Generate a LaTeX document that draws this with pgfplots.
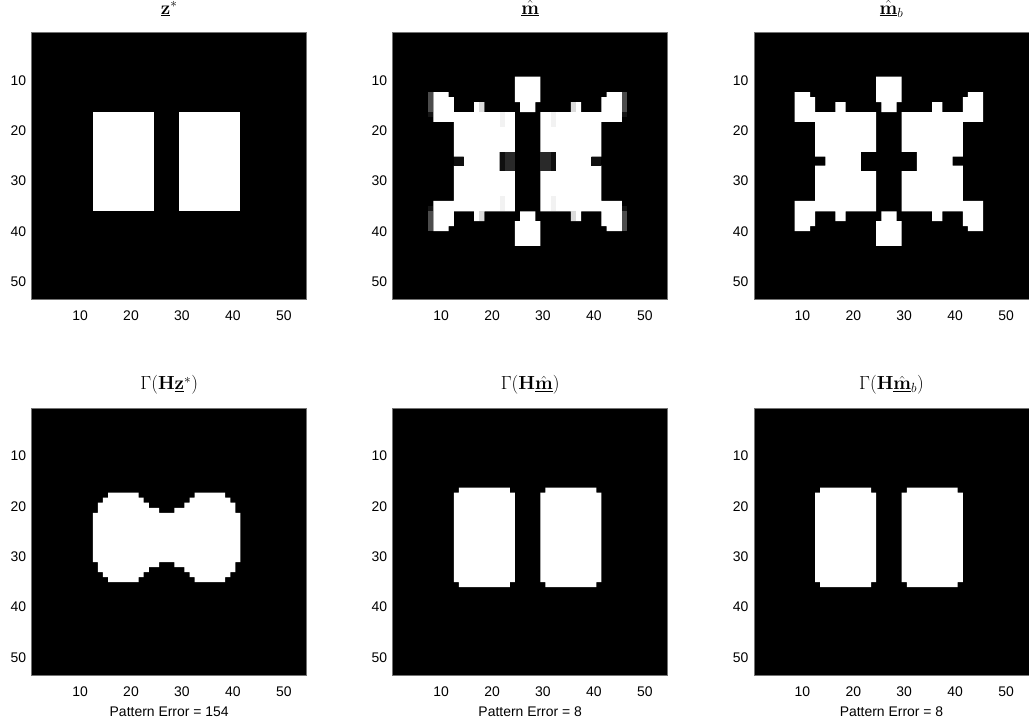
\RequirePackage{fix-cm}
\documentclass[border=0pt]{standalone}
\usepackage{pgfplots}
\pgfplotsset{compat=1.18}
\usepackage[no-math]{fontspec}
\setmainfont{Liberation Sans}
\newcommand{\rect}[5]{\addplot[fill=#5,draw=none] coordinates {(#1,#2) (#3,#2) (#3,#4) (#1,#4)};}
\newcommand{\mbshapes}{%
\addplot[fill=white,draw=none] coordinates {(8.5,12.3) (11.5,12.3) (11.5,13.3) (12.5,13.3) (12.5,16.3) (16.5,16.3) (16.5,14.3) (18.5,14.3) (18.5,16.3) (24.5,16.3) (24.5,24.2) (21.5,24.2) (21.5,28.0) (24.5,28.0) (24.5,36.0) (18.5,36.0) (18.5,37.95) (16.5,37.95) (16.5,36.0) (12.5,36.0) (12.5,38.95) (11.5,38.95) (11.5,39.95) (8.5,39.95) (8.5,33.95) (12.5,33.95) (12.5,26.95) (14.5,26.95) (14.5,25.15) (12.5,25.15) (12.5,18.25) (8.5,18.25)};
\addplot[fill=white,draw=none] coordinates {(45.5,12.3) (42.5,12.3) (42.5,13.3) (41.5,13.3) (41.5,16.3) (37.5,16.3) (37.5,14.3) (35.5,14.3) (35.5,16.3) (29.5,16.3) (29.5,24.2) (32.5,24.2) (32.5,28.0) (29.5,28.0) (29.5,36.0) (35.5,36.0) (35.5,37.95) (37.5,37.95) (37.5,36.0) (41.5,36.0) (41.5,38.95) (42.5,38.95) (42.5,39.95) (45.5,39.95) (45.5,33.95) (41.5,33.95) (41.5,26.95) (39.5,26.95) (39.5,25.15) (41.5,25.15) (41.5,18.25) (45.5,18.25)};
\addplot[fill=white,draw=none] coordinates {(24.5,9.25) (29.5,9.25) (29.5,14.3) (28.5,14.3) (28.5,16.3) (25.5,16.3) (25.5,14.3) (24.5,14.3)};
\addplot[fill=white,draw=none] coordinates {(25.5,36.0) (28.5,36.0) (28.5,37.95) (29.5,37.95) (29.5,42.9) (24.5,42.9) (24.5,37.95) (25.5,37.95)};
}
\newcommand{\hmshapes}{%
\addplot[fill=white,draw=none] coordinates {(13.5,16.25) (23.5,16.25) (23.5,17.25) (24.5,17.25) (24.5,35.05) (23.5,35.05) (23.5,36.05) (13.5,36.05) (13.5,35.05) (12.5,35.05) (12.5,17.25) (13.5,17.25)};
\addplot[fill=white,draw=none] coordinates {(30.5,16.25) (40.5,16.25) (40.5,17.25) (41.5,17.25) (41.5,35.05) (40.5,35.05) (40.5,36.05) (30.5,36.05) (30.5,35.05) (29.5,35.05) (29.5,17.25) (30.5,17.25)};
}
\pgfplotsset{img/.style={scale only axis, width=275bp, height=266.6bp,
  xmin=0.5, xmax=54.5, ymin=0.5, ymax=53.5, y dir=reverse,
  axis background/.style={fill=black},
  xtick={10,20,30,40,50}, ytick={10,20,30,40,50},
  major tick length=0pt, tick style={draw=none},
  axis line style={black!55, line width=0.6bp},
  /pgf/number format/assume math mode=true,
  tick label style={font=\fontsize{14}{16}\selectfont},
  xticklabel style={anchor=base, yshift=-21bp},
  yticklabel style={anchor=east, xshift=-2bp},
  title style={anchor=base, at={(0.5,1)}, yshift=12.5bp, inner sep=0pt, font=\fontsize{19}{22}\selectfont},
  xlabel style={at={(0.5,0)}, anchor=base, yshift=-41bp, inner sep=0pt, font=\fontsize{14}{16}\selectfont},
  anchor=south west}}
\begin{document}
\begin{tikzpicture}
\path[use as bounding box] (0,0) rectangle (1029bp,720bp);
% top row
\begin{axis}[img, at={(31.7bp,420.7bp)}, title={$\underline{\mathbf{z}}^*$}]
\rect{12.5}{16.3}{24.5}{36.0}{white}
\rect{29.5}{16.3}{41.5}{36.0}{white}
\end{axis}
\begin{axis}[img, at={(392.7bp,420.7bp)}, title={$\underline{\hat{\mathbf{m}}}$}]
\mbshapes
\rect{7.5}{12.3}{8.5}{16.3}{black!70}
\rect{7.5}{16.3}{8.5}{17.3}{black!92}
\rect{7.5}{34.95}{8.5}{35.95}{black!92}
\rect{7.5}{35.95}{8.5}{39.95}{black!70}
\rect{45.5}{12.3}{46.5}{16.3}{black!70}
\rect{45.5}{16.3}{46.5}{17.3}{black!92}
\rect{45.5}{34.95}{46.5}{35.95}{black!92}
\rect{45.5}{35.95}{46.5}{39.95}{black!70}
\rect{17.5}{14.3}{18.5}{16.3}{black!14}
\rect{35.5}{14.3}{36.5}{16.3}{black!14}
\rect{17.5}{36.0}{18.5}{37.95}{black!14}
\rect{35.5}{36.0}{36.5}{37.95}{black!14}
\rect{22.5}{24.2}{24.5}{28.0}{black!84}
\rect{29.5}{24.2}{31.5}{28.0}{black!84}
\rect{21.5}{24.2}{22.5}{28.0}{black!94}
\rect{31.5}{24.2}{32.5}{28.0}{black!94}
\rect{12.5}{25.15}{14.5}{26.95}{black!94}
\rect{39.5}{25.15}{41.5}{26.95}{black!94}
\rect{21.5}{16.3}{22.5}{19.25}{black!5}
\rect{31.5}{16.3}{32.5}{19.25}{black!5}
\rect{21.5}{33.05}{22.5}{36.0}{black!5}
\rect{31.5}{33.05}{32.5}{36.0}{black!5}
\end{axis}
\begin{axis}[img, at={(754bp,420.7bp)}, title={$\underline{\hat{\mathbf{m}}}_b$}]
\mbshapes
\end{axis}
% bottom row
\begin{axis}[img, at={(31.7bp,45bp)}, title={$\Gamma(\mathbf{H}\underline{\mathbf{z}}^*)$}, xlabel={Pattern Error = 154}]
\addplot[fill=white,draw=none] coordinates {(12.5,21.25) (13.5,21.25) (13.5,19.25) (14.5,19.25) (14.5,18.25) (15.5,18.25) (15.5,17.25) (21.5,17.25) (21.5,18.25) (22.5,18.25) (22.5,19.25) (23.5,19.25) (23.5,20.25) (25.5,20.25) (25.5,21.25) (28.5,21.25) (28.5,20.25) (30.5,20.25) (30.5,19.25) (31.5,19.25) (31.5,18.25) (32.5,18.25) (32.5,17.25) (38.5,17.25) (38.5,18.25) (39.5,18.25) (39.5,19.25) (40.5,19.25) (40.5,21.25) (41.5,21.25) (41.5,31.05) (40.5,31.05) (40.5,33.05) (39.5,33.05) (39.5,34.05) (38.5,34.05) (38.5,35.05) (32.5,35.05) (32.5,34.05) (31.5,34.05) (31.5,33.05) (30.5,33.05) (30.5,32.05) (28.5,32.05) (28.5,31.05) (25.5,31.05) (25.5,32.05) (23.5,32.05) (23.5,33.05) (22.5,33.05) (22.5,34.05) (21.5,34.05) (21.5,35.05) (15.5,35.05) (15.5,34.05) (14.5,34.05) (14.5,33.05) (13.5,33.05) (13.5,31.05) (12.5,31.05)};
\end{axis}
\begin{axis}[img, at={(392.7bp,45bp)}, title={$\Gamma(\mathbf{H}\underline{\hat{\mathbf{m}}})$}, xlabel={Pattern Error = 8}]
\hmshapes
\end{axis}
\begin{axis}[img, at={(754bp,45bp)}, title={$\Gamma(\mathbf{H}\underline{\hat{\mathbf{m}}}_b)$}, xlabel={Pattern Error = 8}]
\hmshapes
\end{axis}
\end{tikzpicture}
\end{document}
